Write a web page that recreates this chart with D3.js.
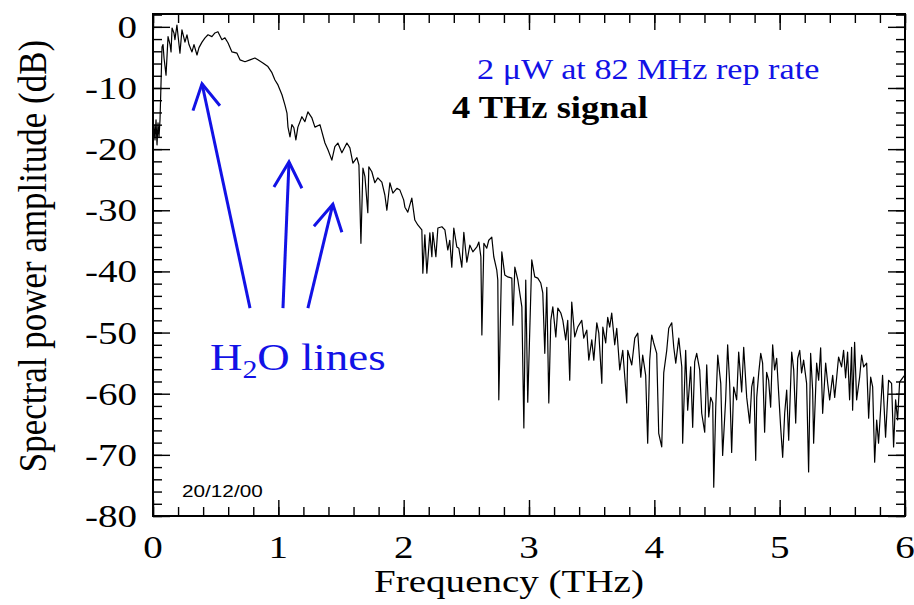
<!DOCTYPE html>
<html><head><meta charset="utf-8">
<script src="https://cdn.jsdelivr.net/npm/d3@7"></script>
<style>html,body{margin:0;padding:0;background:#fff;}svg{display:block;}</style>
</head><body><svg id="c" width="914" height="605"></svg>
<script>
// ---- data (frequency in THz, spectral power amplitude in dB) ----
const freqTHz = [
0.000,0.008,0.016,0.024,0.032,0.040,0.048,0.056,0.072,0.080,0.088,0.104,0.120,0.136,0.144,0.152,0.167,0.175,0.191,0.199,0.215,0.231,0.255,0.271,0.287,0.311,0.327,0.351,0.367,0.391,0.415,0.439,0.470,0.494,0.518,0.550,0.574,0.598,0.630,0.670,0.694,0.734,0.774,0.813,0.837,0.877,0.917,0.949,0.973,0.997,1.029,1.053,1.069,1.077,1.093,1.108,1.124,1.140,1.156,1.188,1.212,1.236,1.268,1.292,1.332,
1.372,1.396,1.427,1.451,1.475,1.507,1.547,1.571,1.595,1.627,1.643,1.659,1.675,1.691,1.714,1.722,1.746,1.770,1.794,1.826,1.850,1.866,1.890,1.914,1.946,1.970,2.000,
2.010,2.033,2.065,2.089,2.113,2.145,2.153,2.169,2.185,2.209,2.225,2.233,2.257,2.273,2.305,2.329,2.352,2.368,2.384,2.400,2.424,2.440,2.464,2.480,2.504,2.528,2.552,2.584,2.600,2.616,2.624,2.640,2.663,2.679,2.703,2.719,2.743,2.751,2.759,2.783,2.807,2.831,2.863,2.871,2.887,2.911,2.943,2.959,2.974,2.990,3.022,3.046,3.070,3.094,3.110,3.126,3.142,3.158,3.174,3.190,3.214,3.230,3.254,3.270,3.293,3.309,3.325,3.341,3.365,3.389,3.421,3.437,3.461,3.477,3.501,3.517,3.541,
3.557,3.581,3.589,3.612,3.628,3.644,3.660,3.684,3.700,3.724,3.748,3.780,3.788,3.820,3.844,3.868,3.892,3.907,3.931,3.947,3.963,3.979,3.995,4.019,4.035,4.059,4.075,4.099,4.115,4.139,4.155,4.171,4.195,4.219,4.226,4.250,4.266,4.290,4.306,4.322,4.338,4.362,4.378,4.402,4.418,4.434,4.450,4.466,4.474,4.490,4.506,4.530,4.545,4.569,4.585,4.601,4.617,4.633,4.657,4.673,4.697,4.713,4.737,4.761,
4.777,4.793,4.809,4.817,4.833,4.849,4.864,4.880,4.896,4.912,4.928,4.944,4.960,4.976,4.992,5.008,5.024,5.040,5.056,5.072,5.096,5.112,5.128,5.144,5.160,5.175,5.191,5.215,5.231,5.247,5.263,5.271,5.295,5.311,5.327,5.343,5.367,5.383,5.399,5.423,5.439,5.455,5.470,5.494,5.510,5.526,5.542,5.558,5.574,5.582,5.598,5.614,5.638,5.654,5.670,5.694,5.710,5.726,5.742,5.758,5.774,5.789,5.805,5.821,5.845,5.869,5.893,5.909,5.925,5.941,5.957,5.981,5.997
];
const ampDB = [
-20.1,-16.0,-18.5,-15.2,-19.3,-15.7,-18.0,-15.2,-3.3,-2.9,-5.1,-7.9,-1.6,-2.9,-4.1,-0.2,-1.0,-2.1,0.3,-1.3,-4.3,-0.5,-2.5,-1.3,-2.9,-4.1,-2.9,-4.6,-3.4,-2.5,-1.8,-1.3,-1.6,-1.0,-0.8,-2.1,-1.8,-2.6,-4.1,-4.3,-5.4,-5.7,-5.4,-5.1,-5.4,-5.9,-6.5,-7.5,-8.7,-9.5,-11.1,-12.8,-14.1,-16.4,-18.0,-16.0,-16.5,-18.5,-16.4,-14.7,-15.5,-13.9,-14.9,-16.4,-16.0,
-19.0,-20.1,-21.8,-19.6,-19.0,-20.6,-19.0,-19.8,-22.3,-21.4,-22.6,-35.4,-23.1,-24.5,-30.4,-22.9,-23.7,-25.5,-24.7,-25.4,-27.5,-30.0,-25.5,-27.2,-26.4,-26.7,-28.3,
-29.5,-30.3,-28.0,-31.6,-32.4,-33.2,-40.3,-34.0,-40.3,-33.7,-37.6,-33.6,-37.6,-32.9,-32.7,-33.2,-36.5,-34.9,-39.3,-32.9,-36.0,-36.2,-39.3,-33.6,-38.5,-35.7,-36.8,-36.0,-35.2,-37.6,-50.4,-35.4,-36.2,-34.9,-34.4,-37.6,-39.8,-41.4,-61.0,-36.8,-40.6,-40.9,-41.1,-48.8,-39.3,-41.4,-45.8,-65.6,-41.4,-61.4,-38.1,-40.9,-41.1,-41.9,-43.5,-53.4,-42.6,-61.5,-48.0,-45.8,-50.7,-46.0,-46.8,-48.0,-51.2,-48.0,-57.8,-45.0,-50.7,-49.1,-48.0,-50.9,-49.6,-54.5,-51.2,-54.5,-48.4,
-50.1,-58.3,-49.1,-51.7,-47.5,-49.1,-46.8,-52.0,-49.3,-56.1,-52.9,-61.5,-52.9,-55.3,-50.9,-50.1,-57.3,-53.7,-57.0,-68.1,-54.5,-50.4,-51.7,-53.4,-66.5,-68.7,-56.6,-52.9,-49.3,-48.4,-52.4,-55.0,-50.9,-55.6,-68.1,-52.9,-62.7,-55.6,-65.5,-54.8,-53.4,-56.1,-63.2,-66.3,-55.3,-63.8,-60.6,-61.5,-75.3,-62.2,-53.7,-58.3,-70.1,-61.0,-52.0,-58.3,-69.6,-58.9,-61.0,-53.2,-59.7,-52.4,-60.6,-64.8,
-58.9,-57.3,-70.9,-60.6,-56.6,-53.4,-55.0,-66.3,-56.5,-57.8,-62.2,-52.0,-56.1,-54.2,-59.9,-65.5,-70.4,-63.2,-59.4,-67.6,-53.2,-56.1,-64.8,-54.2,-52.9,-56.6,-54.5,-58.3,-72.8,-53.4,-59.4,-68.1,-55.0,-57.8,-52.5,-63.2,-55.0,-58.3,-61.0,-57.0,-60.6,-57.3,-54.0,-55.6,-52.9,-57.4,-53.2,-61.0,-52.4,-62.7,-51.6,-61.0,-57.3,-53.7,-55.6,-55.0,-64.0,-57.3,-58.9,-71.2,-64.3,-68.1,-62.7,-57.0,-67.1,-57.8,-58.3,-68.7,-61.0,-64.3,-58.1,-57.4,-57.0
];
const xTickValues = [0,1,2,3,4,5,6];
const xTickLabels = ["0","1","2","3","4","5","6"];
const yTickValues = [0,-10,-20,-30,-40,-50,-60,-70,-80];
const yTickLabels = ["0","-10","-20","-30","-40","-50","-60","-70","-80"];
// H2O absorption-line arrows: tail, tip, barb ends (THz, dB)
const arrowTails = [[0.774,-46.0],[1.037,-46.0],[1.236,-46.0]];
const arrowTips  = [[0.391,-9.3],[1.085,-22.1],[1.435,-29.0]];
const barbLeft   = [[0.319,-13.7],[0.965,-26.2],[1.284,-32.6]];
const barbRight  = [[0.534,-12.9],[1.188,-26.4],[1.507,-33.6]];

// ---- layout ----
const m = {left:153, right:905, top:14, bottom:516};
const x = d3.scaleLinear().domain([0,6]).range([m.left,m.right]);
const y = d3.scaleLinear().domain([-80,2.1]).range([m.bottom,m.top]);
const svg = d3.select('#c');
const SX = 1.22;
const serif = '"Liberation Serif","Times New Roman",serif';
const blue = '#1212e6';

svg.append('rect').attr('width',914).attr('height',605).attr('fill','#fff');

svg.append('clipPath').attr('id','clip').append('rect')
  .attr('x',m.left).attr('y',m.top).attr('width',m.right-m.left).attr('height',m.bottom-m.top);

// spectrum
svg.append('path').datum(d3.zip(freqTHz,ampDB))
  .attr('clip-path','url(#clip)')
  .attr('fill','none').attr('stroke','#000').attr('stroke-width',1.2).attr('stroke-linejoin','round')
  .attr('d', d3.line().x(d=>x(d[0])).y(d=>y(d[1])));

// ticks (all inward)
const xMinor = d3.range(0,6.001,0.2).map(v=>+v.toFixed(2));
const yMinor = d3.range(-80,2.01,2);
function styleAxis(g){ g.select('.domain').remove(); g.selectAll('line').attr('stroke','#000').attr('stroke-width',1.4); g.selectAll('text').remove(); }
svg.append('g').attr('transform',`translate(0,${m.bottom})`).call(d3.axisBottom(x).tickValues(xMinor).tickSize(-9).tickFormat('')).call(styleAxis);
svg.append('g').attr('transform',`translate(0,${m.bottom})`).call(d3.axisBottom(x).tickValues(xTickValues).tickSize(-16).tickFormat('')).call(styleAxis);
svg.append('g').attr('transform',`translate(0,${m.top})`).call(d3.axisTop(x).tickValues(xMinor).tickSize(-9).tickFormat('')).call(styleAxis);
svg.append('g').attr('transform',`translate(0,${m.top})`).call(d3.axisTop(x).tickValues(xTickValues).tickSize(-16).tickFormat('')).call(styleAxis);
svg.append('g').attr('transform',`translate(${m.left},0)`).call(d3.axisLeft(y).tickValues(yMinor).tickSize(-9).tickFormat('')).call(styleAxis);
svg.append('g').attr('transform',`translate(${m.left},0)`).call(d3.axisLeft(y).tickValues(yTickValues).tickSize(-17).tickFormat('')).call(styleAxis);
svg.append('g').attr('transform',`translate(${m.right},0)`).call(d3.axisRight(y).tickValues(yMinor).tickSize(-9).tickFormat('')).call(styleAxis);
svg.append('g').attr('transform',`translate(${m.right},0)`).call(d3.axisRight(y).tickValues(yTickValues).tickSize(-17).tickFormat('')).call(styleAxis);

// frame
svg.append('rect').attr('x',m.left).attr('y',m.top).attr('width',m.right-m.left).attr('height',m.bottom-m.top)
  .attr('fill','none').attr('stroke','#000').attr('stroke-width',2);

// tick labels
svg.append('g').selectAll('text').data(xTickValues).join('text')
  .attr('transform',d=>`translate(${x(d)},558) scale(${SX},1)`)
  .attr('text-anchor','middle').attr('font-family',serif).attr('font-size',32)
  .text((d,i)=>xTickLabels[i]);
svg.append('g').selectAll('text').data(yTickValues).join('text')
  .attr('transform',d=>`translate(137,${y(d)+11}) scale(${SX},1)`)
  .attr('text-anchor','end').attr('font-family',serif).attr('font-size',32)
  .text((d,i)=>yTickLabels[i]);

// axis titles
svg.append('text').attr('transform',`translate(509,592) scale(${SX},1)`)
  .attr('text-anchor','middle').attr('font-family',serif).attr('font-size',32).text('Frequency (THz)');
svg.append('text').attr('transform',`translate(46,256) scale(1.12,1) rotate(-90)`)
  .attr('text-anchor','middle').attr('font-family',serif).attr('font-size',35).text('Spectral power amplitude (dB)');

// annotations
svg.append('text').attr('transform',`translate(477,79) scale(1.14,1)`)
  .attr('font-family',serif).attr('font-size',30).attr('fill',blue).text('2 \u03bcW at 82 MHz rep rate');
svg.append('text').attr('transform',`translate(452,118) scale(1.14,1)`)
  .attr('font-family',serif).attr('font-size',32).attr('font-weight','bold').attr('fill','#000').text('4 THz signal');
const h2o = svg.append('text').attr('transform',`translate(210,370) scale(1.15,1)`)
  .attr('font-family',serif).attr('font-size',39).attr('fill',blue);
h2o.append('tspan').text('H');
h2o.append('tspan').attr('font-size',26).attr('dy',8).text('2');
h2o.append('tspan').attr('dy',-8).text('O lines');
svg.append('text').attr('transform',`translate(182,497) scale(${SX},1)`)
  .attr('font-family','"Liberation Sans",Arial,sans-serif').attr('font-size',17).text('20/12/00');

// arrows
const arrowG = svg.append('g').attr('fill','none').attr('stroke',blue).attr('stroke-width',3).attr('stroke-linejoin','miter');
arrowTips.forEach((tip,i)=>{
  arrowG.append('line').attr('x1',x(arrowTails[i][0])).attr('y1',y(arrowTails[i][1])).attr('x2',x(tip[0])).attr('y2',y(tip[1]));
  arrowG.append('polyline').attr('points',[barbLeft[i],tip,barbRight[i]].map(p=>x(p[0])+','+y(p[1])).join(' '));
});
</script></body></html>
